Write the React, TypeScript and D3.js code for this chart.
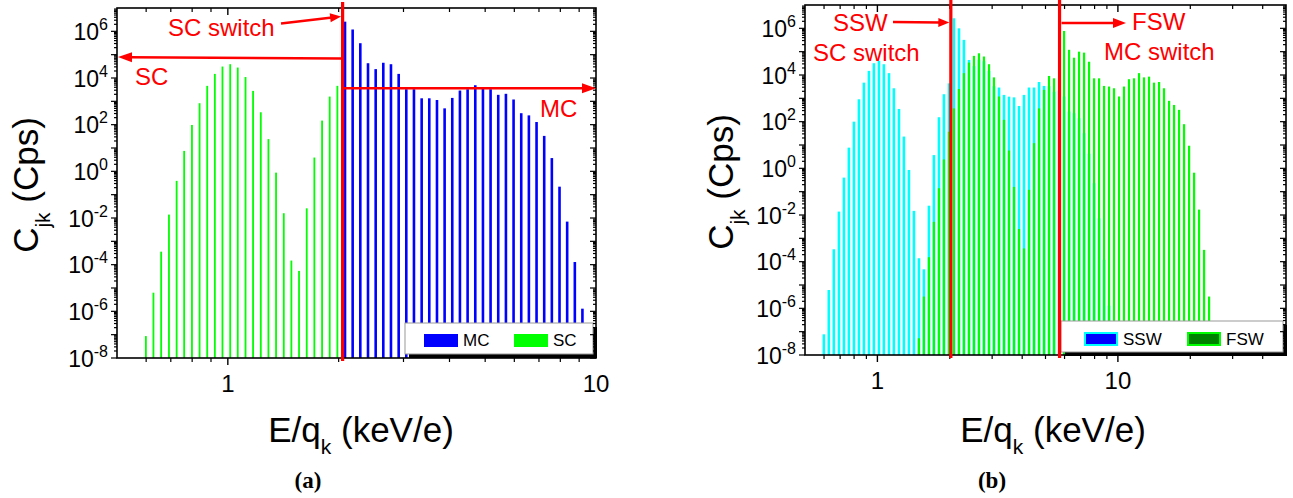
import React from 'react';
import * as d3 from 'd3';

// Energy-per-charge steps (keV/e) of the instrument grid
const energies = [
  0.599, 0.628, 0.659, 0.692, 0.726, 0.761, 0.799, 0.838, 0.879, 0.922,
  0.967, 1.015, 1.064, 1.117, 1.171, 1.229, 1.289, 1.352, 1.419, 1.488,
  1.561, 1.638, 1.718, 1.803, 1.891, 1.984, 2.081, 2.183, 2.29, 2.403,
  2.521, 2.644, 2.774, 2.911, 3.053, 3.203, 3.361, 3.525, 3.699, 3.88,
  4.07, 4.27, 4.48, 4.7, 4.931, 5.172, 5.426, 5.693, 5.972, 6.265,
  6.572, 6.895, 7.233, 7.587, 7.96, 8.35, 8.76, 9.186, 9.636, 10.11,
  10.6, 11.12, 11.67, 12.24, 12.84, 13.47, 14.13, 14.83, 15.55, 16.32,
  17.12, 17.96, 18.84, 19.77, 20.74, 21.75, 22.82, 23.94,
];

// Panel (a): SC counts for steps 0..25, MC counts for steps 26..57
const scCounts = [
  8.7e-8, 6.3e-6, 3.6e-4, 1.4e-2, 0.39, 7.5, 97, 830, 4.6e3, 1.5e4,
  3.1e4, 3.9e4, 2.8e4, 1.1e4, 2.8e3, 340, 24, 0.88, 1.6e-2, 1.5e-4,
  5.4e-5, 2.6e-2, 3.9, 150, 1.6e3, 4.6e3,
];
const mcStart = 26;
const mcCounts = [
  2.6e6, 1.2e6, 3.1e5, 4.3e4, 2.4e4, 4.5e4, 3.9e4, 1.5e4, 3.3e3, 3.3e3,
  1.35e3, 1.35e3, 1.14e3, 500, 1.4e3, 2.9e3, 3.3e3, 4.9e3, 3.5e3, 3.3e3,
  1.9e3, 2.1e3, 1.2e3, 310, 250, 130, 33, 3.7, 0.22, 7.0e-3,
  1.3e-4, 1.3e-6,
];

// Panel (b): SSW counts for steps 0..57, FSW counts for steps 19..77
const sswCounts = [
  7.7e-8, 6.1e-6, 3.4e-4, 1.4e-2, 0.4, 7.7, 100, 910, 4.7e3, 1.5e4,
  3.2e4, 4.0e4, 2.9e4, 1.2e4, 2.7e3, 350, 23, 0.85, 1.5e-2, 1.4e-4,
  4.7e-5, 2.5e-2, 3.7, 155, 1.5e3, 4.4e3, 2.7e6, 1.0e6, 3.2e5, 4.4e4,
  2.4e4, 4.5e4, 3.9e4, 1.5e4, 3.3e3, 2.9e3, 1.4e3, 1.18e3, 1.1e3, 470,
  1.4e3, 2.9e3, 2.9e3, 5.0e3, 3.4e3, 3.3e3, 1.9e3, 2.1e3, 1.2e3, 270,
  230, 140, 32, 4.2, 0.23, 7.2e-3, 1.2e-4, 1.3e-6,
];
const fswStart = 19;
const fswCounts = [
  5.2e-8, 3.2e-6, 1.55e-4, 5.1e-3, 0.14, 2.4, 37, 370, 2.5e3, 1.2e4,
  3.4e4, 6.6e4, 8.5e4, 6.2e4, 2.9e4, 7.9e3, 1.2e3, 120, 5.8, 0.16,
  2.5e-3, 3.7e-4, 0.12, 12, 370, 2.3e3, 9.1e3, 7.2e3, 8.0e3, 7.7e5,
  1.2e5, 5.5e4, 1.0e5, 9.1e4, 3.7e4, 7.2e3, 7.2e3, 3.4e3, 3.2e3, 2.7e3,
  1.2e3, 3.2e3, 6.6e3, 7.2e3, 1.2e4, 7.9e3, 8.5e3, 4.7e3, 5.0e3, 2.7e3,
  780, 520, 320, 78, 9.3, 0.65, 1.7e-2, 3.2e-4, 3.2e-6,
];

const yLabelExponents = [-8, -6, -4, -2, 0, 2, 4, 6];
const xLabelsA = [1, 10];
const xLabelsB = [1, 10];
const xMinorA = [0.6, 0.7, 0.8, 0.9, 2, 3, 4, 5, 6, 7, 8, 9];
const xMinorB = [0.6, 0.7, 0.8, 0.9, 2, 3, 4, 5, 6, 7, 8, 9, 20, 30, 40];

// switches & arrow levels (data units)
const scSwitchA = 2.05;
const scArrowLevel = 7.5e4;
const mcArrowLevel = 3.6e3;
const sscSwitchB = 2.02;
const mcSwitchB = 5.72;

const SANS = "'Liberation Sans', Arial, Helvetica, sans-serif";
const SERIF = "'Liberation Serif', 'Times New Roman', serif";
const RED = '#ff0000';

type Box = { l: number; r: number; t: number; b: number };

function arrowHead(x1: number, y1: number, x2: number, y2: number, len: number, half: number) {
  const dx = x2 - x1;
  const dy = y2 - y1;
  const d = Math.sqrt(dx * dx + dy * dy);
  const ux = dx / d;
  const uy = dy / d;
  const bx = x2 - ux * len;
  const by = y2 - uy * len;
  return `${x2},${y2} ${bx - uy * half},${by + ux * half} ${bx + uy * half},${by - ux * half}`;
}

function Arrow({ x1, y1, x2, y2, len = 13, half = 5, w = 2.5 }: any) {
  const dx = x2 - x1;
  const dy = y2 - y1;
  const d = Math.sqrt(dx * dx + dy * dy);
  const ex = x2 - (dx / d) * (len - 2);
  const ey = y2 - (dy / d) * (len - 2);
  return (
    <g>
      <line x1={x1} y1={y1} x2={ex} y2={ey} stroke={RED} strokeWidth={w} />
      <polygon points={arrowHead(x1, y1, x2, y2, len, half)} fill={RED} />
    </g>
  );
}

function Axes({ box, x, y, minor, labels, titleX, yTitleX }: any) {
  const { l, r, t, b } = box;
  const yTicks: { v: number; major: boolean }[] = [];
  for (let k = -8; k <= 6; k++) {
    yTicks.push({ v: Math.pow(10, k), major: true });
    for (let m = 2; m <= 9; m++) yTicks.push({ v: m * Math.pow(10, k), major: false });
  }
  const xMax = x.domain()[1];
  const majorX = labels.filter((v: number) => v < xMax);
  return (
    <g>
      {/* frame */}
      <rect x={l} y={t} width={r - l} height={b - t} fill="none" stroke="#000" strokeWidth={1.6} />
      {yTicks.map((tk, i) => {
        const yy = y(tk.v);
        const len = tk.major ? 6 : 3;
        return (
          <g key={'yt' + i}>
            <line x1={l} x2={l - len} y1={yy} y2={yy} stroke="#000" strokeWidth={1.2} />
            <line x1={r} x2={r - len} y1={yy} y2={yy} stroke="#000" strokeWidth={1.2} />
          </g>
        );
      })}
      {minor.map((v: number, i: number) => (
        <g key={'xm' + i}>
          <line x1={x(v)} x2={x(v)} y1={b} y2={b + 4} stroke="#000" strokeWidth={1.2} />
          <line x1={x(v)} x2={x(v)} y1={t} y2={t + 4} stroke="#000" strokeWidth={1.2} />
        </g>
      ))}
      {majorX.map((v: number, i: number) => (
        <g key={'xM' + i}>
          <line x1={x(v)} x2={x(v)} y1={b} y2={b + 7} stroke="#000" strokeWidth={1.4} />
          <line x1={x(v)} x2={x(v)} y1={t} y2={t + 7} stroke="#000" strokeWidth={1.4} />
        </g>
      ))}
      {labels.map((v: number, i: number) => (
        <text key={'xl' + i} x={x(v)} y={b + 34} textAnchor="middle" fontFamily={SANS} fontSize={24} fill="#000">
          {v}
        </text>
      ))}
      {yLabelExponents.map((e) => (
        <text key={'yl' + e} x={l - 9} y={y(Math.pow(10, e)) + 8.5} textAnchor="end" fontFamily={SANS} fontSize={23} fill="#000">
          10
          <tspan dy={-10} fontSize={16}>{e}</tspan>
        </text>
      ))}
      <text x={titleX} y={442} textAnchor="middle" fontFamily={SANS} fontSize={35} fill="#000" style={{ whiteSpace: 'pre' }}>
        E/q
        <tspan dy={12} fontSize={21}>k</tspan>
        <tspan dy={-12}> (keV/e)</tspan>
      </text>
      <text
        transform={`translate(${yTitleX},${(t + b) / 2 + 2}) rotate(-90)`}
        textAnchor="middle"
        fontFamily={SANS}
        fontSize={35}
        fill="#000"
        style={{ whiteSpace: 'pre' }}
      >
        C
        <tspan dy={12} fontSize={21}>jk</tspan>
        <tspan dy={-12}> (Cps)</tspan>
      </text>
    </g>
  );
}

function PanelA() {
  const box: Box = { l: 117, r: 596, t: 8, b: 358 };
  const x = d3.scaleLog().domain([0.5, 10]).range([box.l, box.r]);
  const y = d3.scaleLog().domain([1e-8, 1e7]).range([box.b, box.t]);
  const sx = x(scSwitchA);
  const ySC = y(scArrowLevel);
  const yMC = y(mcArrowLevel);
  return (
    <g>
      {scCounts.map((v, i) => (
        <rect key={'sc' + i} x={x(energies[i]) - 0.9} y={y(v)} width={1.8} height={box.b - y(v)} fill="#00ff00" />
      ))}
      {mcCounts.map((v, i) => (
        <rect key={'mc' + i} x={x(energies[i + mcStart]) - 1.3} y={y(v)} width={2.6} height={box.b - y(v)} fill="#0000ff" />
      ))}
      {/* legend */}
      <rect x={409} y={327} width={188} height={31} fill="#000" />
      <rect x={405} y={323} width={188} height={31} fill="#fff" stroke="#999" strokeWidth={1} />
      <rect x={424} y={334} width={34} height={13} fill="#0000ff" />
      <text x={463} y={346} fontFamily={SANS} fontSize={17} fill="#000">MC</text>
      <rect x={514} y={334} width={34} height={13} fill="#00ff00" />
      <text x={553} y={346} fontFamily={SANS} fontSize={17} fill="#000">SC</text>
      <Axes box={box} x={x} y={y} minor={xMinorA} labels={xLabelsA} titleX={361} yTitleX={38} />
      {/* switch line and arrows */}
      <line x1={sx} x2={sx} y1={box.t - 6} y2={box.b + 3} stroke={RED} strokeWidth={3.2} />
      <Arrow x1={sx - 1} y1={ySC + 1} x2={box.l + 1} y2={ySC - 0.5} len={14} half={5} />
      <Arrow x1={sx + 1} y1={yMC} x2={box.r} y2={yMC} len={14} half={5} />
      <Arrow x1={281} y1={23.5} x2={sx - 1.5} y2={16.5} len={11} half={4.5} />
      <text x={168} y={36} fontFamily={SANS} fontSize={24} fill={RED}>SC switch</text>
      <text x={135} y={85} fontFamily={SANS} fontSize={24} fill={RED}>SC</text>
      <text x={540} y={117} fontFamily={SANS} fontSize={24} fill={RED}>MC</text>
      <text x={308} y={488} textAnchor="middle" fontFamily={SERIF} fontWeight="bold" fontSize={23} fill="#000">(a)</text>
    </g>
  );
}

function PanelB() {
  const box: Box = { l: 805, r: 1286, t: 5, b: 355 };
  const x = d3.scaleLog().domain([0.5, 50]).range([box.l, box.r]);
  const y = d3.scaleLog().domain([1e-8, 1e7]).range([box.b, box.t]);
  const s1 = x(sscSwitchB);
  const s2 = x(mcSwitchB);
  return (
    <g>
      {sswCounts.map((v, i) => (
        <rect key={'ssw' + i} x={x(energies[i]) - 1.3} y={y(v)} width={2.6} height={box.b - y(v)} fill="#00ffff" />
      ))}
      {fswCounts.map((v, i) => (
        <rect key={'fsw' + i} x={x(energies[i + fswStart]) - 1.1} y={y(v)} width={2.2} height={box.b - y(v)} fill="#00ff00" />
      ))}
      {/* legend */}
      <rect x={1065} y={325} width={222} height={31} fill="#000" />
      <rect x={1061} y={321} width={222} height={31} fill="#fff" stroke="#999" strokeWidth={1} />
      <rect x={1085} y={333} width={32} height={12} fill="#0000ff" stroke="#00ffff" strokeWidth={2} />
      <text x={1123} y={345} fontFamily={SANS} fontSize={17} fill="#000">SSW</text>
      <rect x={1188} y={333} width={32} height={12} fill="#008000" stroke="#00ff00" strokeWidth={2} />
      <text x={1226} y={345} fontFamily={SANS} fontSize={17} fill="#000">FSW</text>
      <Axes box={box} x={x} y={y} minor={xMinorB} labels={xLabelsB} titleX={1053} yTitleX={733} />
      <line x1={s1} x2={s1} y1={0} y2={box.b + 3} stroke={RED} strokeWidth={3.2} />
      <line x1={s2} x2={s2} y1={0} y2={box.b + 3} stroke={RED} strokeWidth={3.2} />
      <Arrow x1={893} y1={22} x2={s1 - 1.5} y2={22.5} len={11} half={4.5} />
      <Arrow x1={s2 + 2} y1={23} x2={1126} y2={23} len={13} half={5} />
      <text x={833} y={31} fontFamily={SANS} fontSize={24} fill={RED}>SSW</text>
      <text x={813} y={61} fontFamily={SANS} fontSize={24} fill={RED}>SC switch</text>
      <text x={1132} y={30} fontFamily={SANS} fontSize={24} fill={RED}>FSW</text>
      <text x={1104} y={60} fontFamily={SANS} fontSize={24} fill={RED}>MC switch</text>
      <text x={992} y={488} textAnchor="middle" fontFamily={SERIF} fontWeight="bold" fontSize={23} fill="#000">(b)</text>
    </g>
  );
}

export default function App() {
  return (
    <svg
      width={1293}
      height={498}
      viewBox="0 0 1293 498"
      style={{ position: 'absolute', left: 0, top: 0, background: '#fff' }}
    >
      <rect x={0} y={0} width={1293} height={498} fill="#fff" />
      <PanelA />
      <PanelB />
    </svg>
  );
}
